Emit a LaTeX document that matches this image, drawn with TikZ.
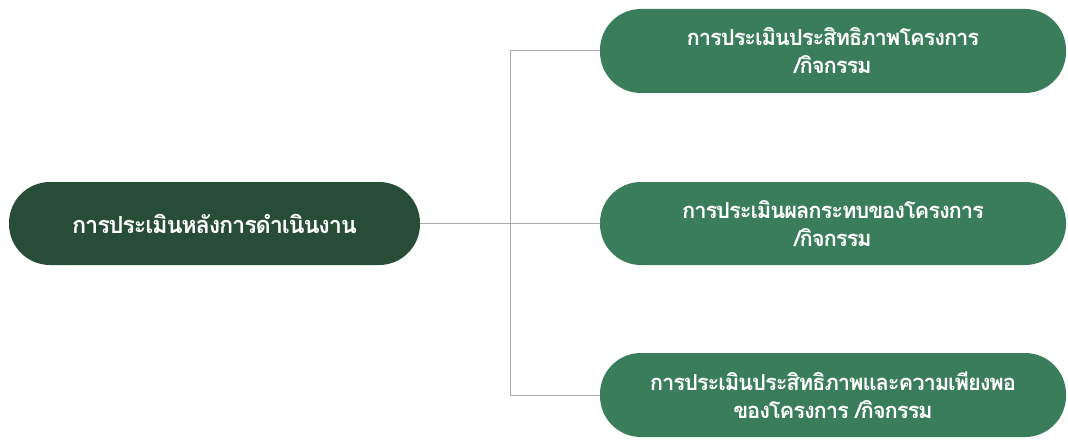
\documentclass[tikz,border=0pt]{standalone}
\usepackage{fontspec}
\newfontfamily\thaifont[Script=Thai,LetterSpace=-5]{Loma}
\definecolor{darkg}{HTML}{274D37}
\definecolor{lightg}{HTML}{3A7D5A}
\definecolor{linec}{HTML}{ABABAB}
\begin{document}
\begin{tikzpicture}[x=1pt,y=-1pt,
  pill/.style={minimum height=#1, rounded corners=41pt, inner sep=0pt, text=white,
    font=\thaifont\bfseries\fontsize{22}{28}\selectfont, align=center},
  pill/.default=84pt,
  bigtext/.style={font=\thaifont\bfseries\fontsize{23.5}{28}\selectfont},
  conn/.style={draw=linec, line width=1pt}]
\fill[white] (0,0) rectangle (1068,441);
\useasboundingbox (0,0) rectangle (1068,441);
\node[pill=83pt, bigtext, fill=darkg, minimum width=411pt] (left) at (214.5,223.5) {การประเมินหลังการดำเนินงาน};
\node[pill, fill=lightg, minimum width=466pt] (top) at (833,51) {การประเมินประสิทธิภาพโครงการ\\/กิจกรรม};
\node[pill=83pt, fill=lightg, minimum width=466pt] (mid) at (833,223.5) {การประเมินผลกระทบของโครงการ\\/กิจกรรม};
\node[pill, fill=lightg, minimum width=466pt] (bot) at (833,395) {การประเมินประสิทธิภาพและความเพียงพอ\\ของโครงการ /กิจกรรม};
\coordinate (j) at (510.5,223.5);
\draw[conn] (top.west) -| (j) |- (bot.west);
\draw[conn] (left.east) -- (mid.west);
\end{tikzpicture}
\end{document}
